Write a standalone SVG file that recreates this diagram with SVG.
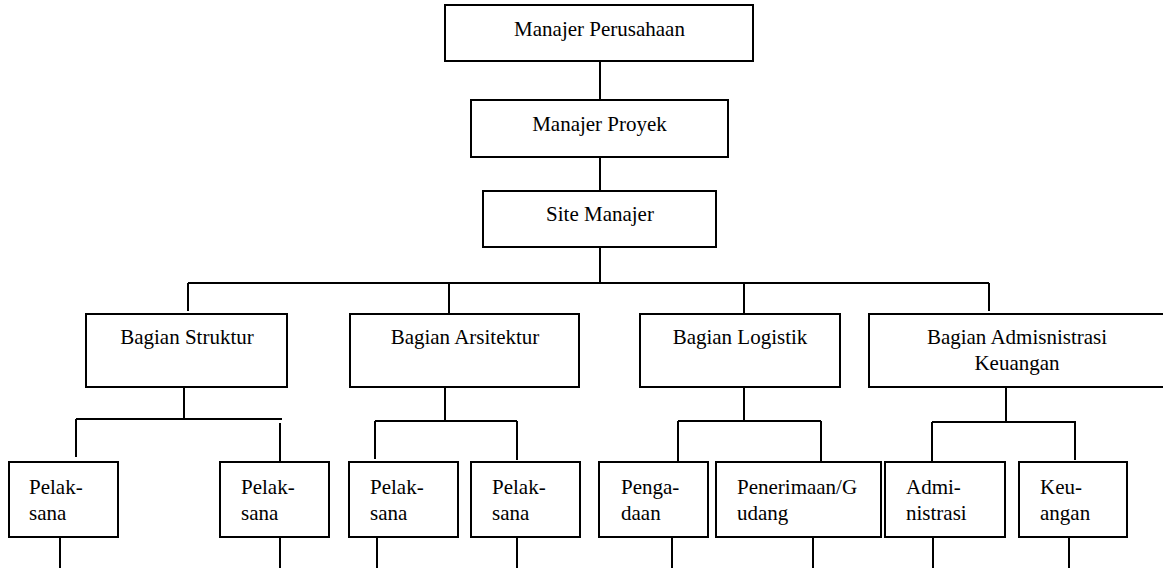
<svg xmlns="http://www.w3.org/2000/svg" width="1163" height="568" viewBox="0 0 1163 568">
  <style>
    .box { fill: #ffffff; stroke: #000000; stroke-width: 2; }
    .wire { fill: none; stroke: #000000; stroke-width: 2; }
    text { font-size: 21px; fill: #000000; }
    .mid { text-anchor: middle; }
  </style>
  <rect width="1163" height="568" fill="#ffffff"/>

  <!-- connectors -->
  <g id="connectors" class="wire">
    <path d="M600 61 V100"/>
    <path d="M600 157 V191"/>
    <path d="M600 247 V283"/>
    <path d="M188 283 H989"/>
    <path d="M188 283 V311"/>
    <path d="M449 283 V313"/>
    <path d="M744 283 V313"/>
    <path d="M989 283 V311"/>

    <!-- Bagian Struktur branch -->
    <path d="M184 387 V419"/>
    <path d="M76 419 H282"/>
    <path d="M76 419 V457"/>
    <path d="M280 423 V462"/>
    <!-- Bagian Arsitektur branch -->
    <path d="M445 387 V421"/>
    <path d="M375 421 H517"/>
    <path d="M375 421 V459"/>
    <path d="M517 421 V460"/>
    <!-- Bagian Logistik branch -->
    <path d="M744 387 V421"/>
    <path d="M678 421 H821"/>
    <path d="M678 421 V462"/>
    <path d="M821 421 V462"/>
    <!-- Bagian Admisnistrasi Keuangan branch -->
    <path d="M1006 387 V422"/>
    <path d="M932 422 H1076"/>
    <path d="M932 422 V462"/>
    <path d="M1075 422 V460"/>

    <!-- lines leaving the bottom row -->
    <path d="M60 537 V568"/>
    <path d="M280 537 V568"/>
    <path d="M377 537 V568"/>
    <path d="M517 537 V568"/>
    <path d="M672 537 V568"/>
    <path d="M813 537 V568"/>
    <path d="M933 537 V568"/>
    <path d="M1069 537 V568"/>
  </g>

  <g font-family="Liberation Serif, Tinos, Times New Roman, DejaVu Serif, serif">
  <!-- top levels -->
  <g id="manajer-perusahaan">
    <rect class="box" x="445" y="5" width="308" height="56"/>
    <text class="mid" x="599.5" y="36">Manajer Perusahaan</text>
  </g>
  <g id="manajer-proyek">
    <rect class="box" x="471" y="100" width="257" height="57"/>
    <text class="mid" x="599.5" y="131">Manajer Proyek</text>
  </g>
  <g id="site-manajer">
    <rect class="box" x="483" y="191" width="233" height="56"/>
    <text class="mid" x="600" y="221">Site Manajer</text>
  </g>

  <!-- departments -->
  <g id="bagian-struktur">
    <rect class="box" x="86" y="314" width="201" height="73"/>
    <text class="mid" x="187" y="344">Bagian Struktur</text>
  </g>
  <g id="bagian-arsitektur">
    <rect class="box" x="350" y="314" width="229" height="73"/>
    <text class="mid" x="465" y="344">Bagian Arsitektur</text>
  </g>
  <g id="bagian-logistik">
    <rect class="box" x="640" y="314" width="200" height="73"/>
    <text class="mid" x="740" y="344">Bagian Logistik</text>
  </g>
  <g id="bagian-admisnistrasi-keuangan">
    <rect class="box" x="869" y="314" width="298" height="73"/>
    <text class="mid" x="1017" y="344">Bagian Admisnistrasi</text>
    <text class="mid" x="1017" y="370">Keuangan</text>
  </g>

  <!-- staff -->
  <g id="pelaksana-1">
    <rect class="box" x="9" y="462" width="109" height="75"/>
    <text x="29" y="494">Pelak-</text>
    <text x="29" y="520">sana</text>
  </g>
  <g id="pelaksana-2">
    <rect class="box" x="220" y="462" width="109" height="75"/>
    <text x="241" y="494">Pelak-</text>
    <text x="241" y="520">sana</text>
  </g>
  <g id="pelaksana-3">
    <rect class="box" x="349" y="462" width="109" height="75"/>
    <text x="370" y="494">Pelak-</text>
    <text x="370" y="520">sana</text>
  </g>
  <g id="pelaksana-4">
    <rect class="box" x="471" y="462" width="109" height="75"/>
    <text x="492" y="494">Pelak-</text>
    <text x="492" y="520">sana</text>
  </g>
  <g id="pengadaan">
    <rect class="box" x="599" y="462" width="109" height="75"/>
    <text x="621" y="494">Penga-</text>
    <text x="621" y="520">daan</text>
  </g>
  <g id="penerimaan-gudang">
    <rect class="box" x="716" y="462" width="165" height="75"/>
    <text x="737" y="494">Penerimaan/G</text>
    <text x="737" y="520">udang</text>
  </g>
  <g id="administrasi">
    <rect class="box" x="885" y="462" width="120" height="75"/>
    <text x="906" y="494">Admi-</text>
    <text x="906" y="520">nistrasi</text>
  </g>
  <g id="keuangan">
    <rect class="box" x="1019" y="462" width="108" height="75"/>
    <text x="1040" y="494">Keu-</text>
    <text x="1040" y="520">angan</text>
  </g>
  </g>
</svg>
